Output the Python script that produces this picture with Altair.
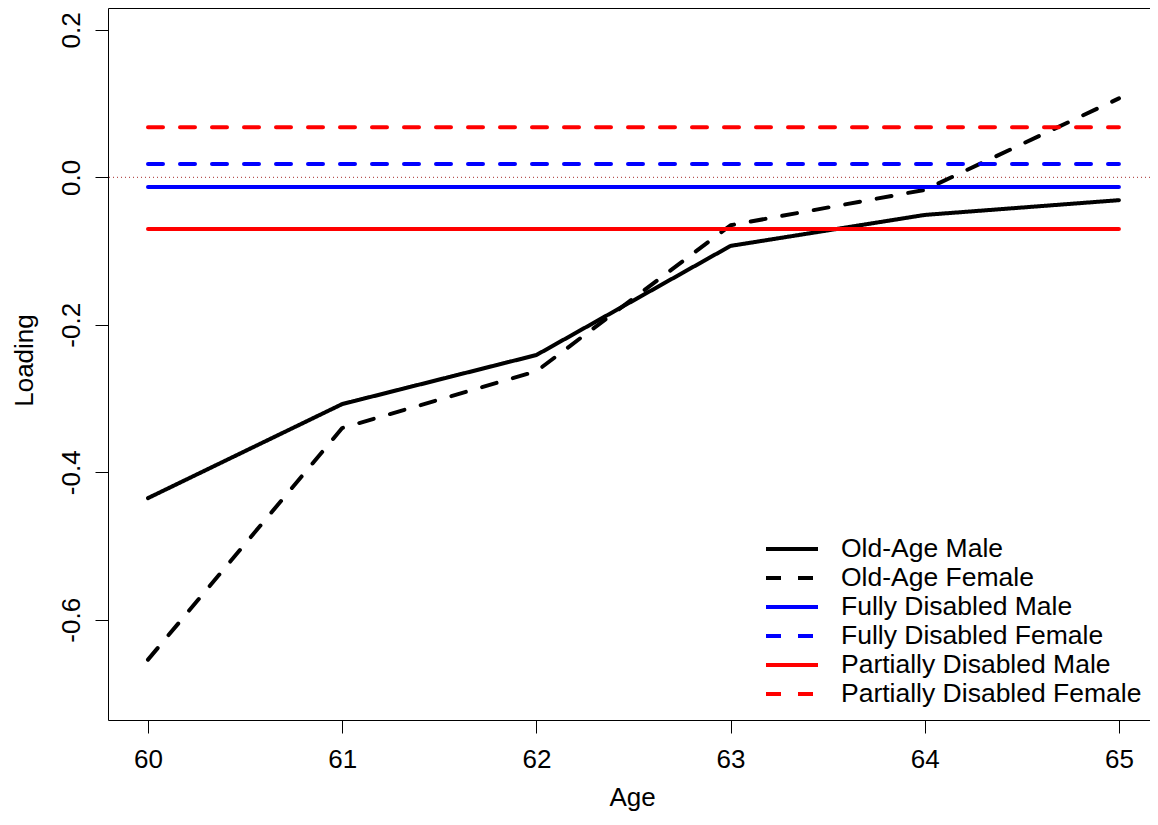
import altair as alt
import pandas as pd

ages = [60, 61, 62, 63, 64, 65]
series_names = [
    "Old-Age Male",
    "Old-Age Female",
    "Fully Disabled Male",
    "Fully Disabled Female",
    "Partially Disabled Male",
    "Partially Disabled Female",
]
old_age_male = [-0.435, -0.3075, -0.241, -0.093, -0.051, -0.031]
old_age_female = [-0.654, -0.340, -0.263, -0.065, -0.017, 0.107]
fully_disabled_male = [-0.013, -0.013, -0.013, -0.013, -0.013, -0.013]
fully_disabled_female = [0.018, 0.018, 0.018, 0.018, 0.018, 0.018]
partially_disabled_male = [-0.070, -0.070, -0.070, -0.070, -0.070, -0.070]
partially_disabled_female = [0.068, 0.068, 0.068, 0.068, 0.068, 0.068]
series_values = [
    old_age_male,
    old_age_female,
    fully_disabled_male,
    fully_disabled_female,
    partially_disabled_male,
    partially_disabled_female,
]
series_colors = ["#000000", "#000000", "#0000FF", "#0000FF", "#FF0000", "#FF0000"]
series_dashes = [[1, 0], [15, 17], [1, 0], [15, 17], [1, 0], [15, 17]]
y_ticks = [-0.6, -0.4, -0.2, 0.0, 0.2]
zero_line = [0.0]

rows = []
for name, vals in zip(series_names, series_values):
    for a, v in zip(ages, vals):
        rows.append({"series": name, "age": a, "loading": v})
df = pd.DataFrame(rows)

FONT = "Liberation Sans"

legend = alt.Legend(
    orient="none",
    legendX=669,
    legendY=526,
    title=None,
    symbolType="M-2,0H2",
    symbolSize=676,
    symbolStrokeWidth=4,
    labelFont=FONT,
    labelFontSize=26.5,
    labelColor="black",
    labelOffset=34,
    rowPadding=0,
    labelLimit=0,
    padding=0,
)

x_enc = alt.X(
    "age:Q",
    scale=alt.Scale(domain=[59.794, 65.16], nice=False, zero=False),
    axis=alt.Axis(
        values=ages,
        title="Age",
        format="d",
        labelBaseline="alphabetic",
        labelPadding=34,
        titleX=524,
        titleY=85,
        titleBaseline="alphabetic",
        titleAlign="center",
    ),
)
y_enc = alt.Y(
    "loading:Q",
    scale=alt.Scale(domain=[-0.7359, 0.2296], nice=False, zero=False),
    axis=alt.Axis(
        values=y_ticks,
        title="Loading",
        labelExpr="datum.value < -0.0001 ? '-' + format(-datum.value, '.1f') : format(abs(datum.value), '.1f')",
        labelAngle=-90,
        labelAlign="center",
        labelBaseline="alphabetic",
        labelPadding=16,
        titleAngle=-90,
        titleX=-76,
        titleY=352,
        titleBaseline="alphabetic",
        titleAlign="center",
    ),
)

zero_rule = (
    alt.Chart(pd.DataFrame({"zero": zero_line}))
    .mark_rule(color="#A52A2A", strokeWidth=1, strokeDash=[1, 3])
    .encode(y=alt.Y("zero:Q"))
)

lines = (
    alt.Chart(df)
    .mark_line(strokeWidth=4, strokeCap="round", strokeJoin="round")
    .encode(
        x=x_enc,
        y=y_enc,
        color=alt.Color(
            "series:N",
            scale=alt.Scale(domain=series_names, range=series_colors),
            sort=series_names,
            legend=legend,
        ),
        strokeDash=alt.StrokeDash(
            "series:N",
            scale=alt.Scale(domain=series_names, range=series_dashes),
            sort=series_names,
            legend=legend,
        ),
    )
)

chart = (
    alt.layer(zero_rule, lines)
    .properties(
        width=1042,
        height=712,
        autosize=alt.AutoSizeParams(type="none"),
        padding={"left": 100, "top": 0, "right": 0, "bottom": 91},
        background="white",
    )
    .configure_view(stroke="black", strokeWidth=1)
    .configure_axis(
        grid=False,
        domain=False,
        labelFont=FONT,
        labelFontSize=26,
        labelColor="black",
        tickColor="black",
        tickSize=13,
        tickWidth=1,
        titleFont=FONT,
        titleFontSize=26,
        titleFontWeight="normal",
        titleColor="black",
    )
)

chart.save("out.html", embed_options={"renderer": "svg", "actions": False})
